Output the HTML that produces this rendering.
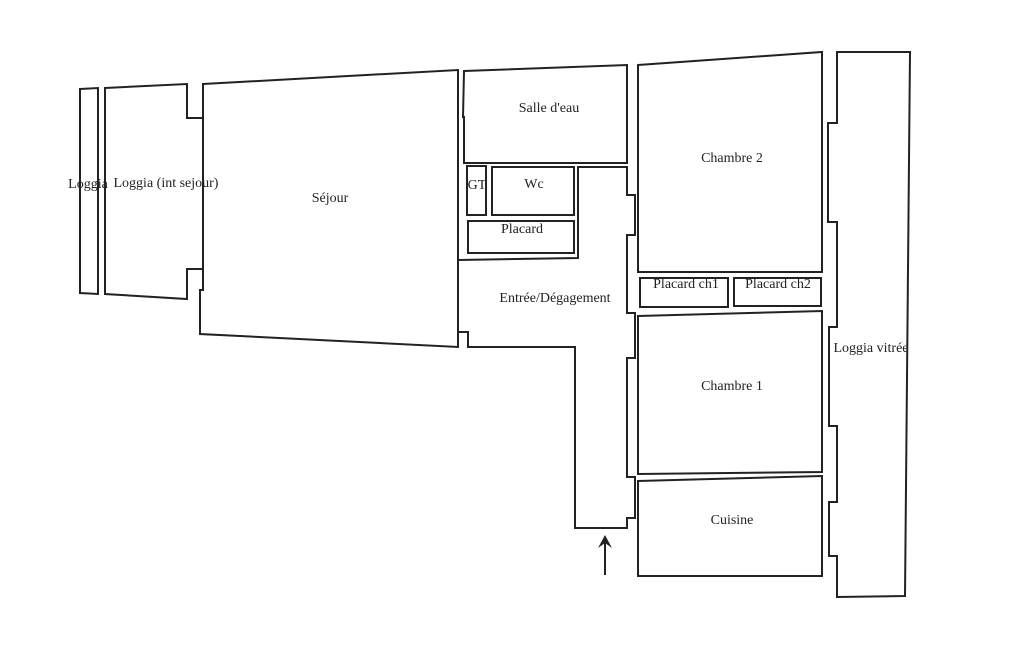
<!DOCTYPE html>
<html><head><meta charset="utf-8"><style>
html,body{margin:0;padding:0;background:#fff;}
svg{display:block;}
text{font-family:"Liberation Serif",serif;font-size:14px;fill:#222;text-anchor:middle;}
</style></head><body>
<svg width="1025" height="650" viewBox="0 0 1025 650" xmlns="http://www.w3.org/2000/svg">
<g fill="none" stroke="#222" stroke-width="2">
<polygon points="80,89 98,88 98,294 80,293"/>
<polygon points="105,88 187,84 187,118 203,118 203,269 187,269 187,299 105,294"/>
<polygon points="203,84 458,70 458,347 200,334 200,290 203,290"/>
<polygon points="464,71 627,65 627,163 464,163 464,117 463,117"/>
<rect x="467" y="166" width="19" height="49"/>
<rect x="492" y="167" width="82" height="48"/>
<rect x="468" y="221" width="106" height="32"/>
<polyline points="458,260 578,258 578,167 627,167 627,195 635,195 635,235 627,235 627,313 635,313 635,358 627,358 627,477 635,477 635,518 627,518 627,528 575,528 575,347 468,347 468,332 458,332"/>
<polygon points="638,65 822,52 822,272 638,272"/>
<rect x="640" y="278" width="88" height="29"/>
<rect x="734" y="278" width="87" height="28"/>
<polygon points="638,316 822,311 822,472 638,474"/>
<polygon points="638,481 822,476 822,576 638,576"/>
<polygon points="837,52 910,52 905,596 837,597 837,556 829,556 829,502 837,502 837,426 829,426 829,327 837,327 837,222 828,222 828,123 837,123"/>
<line x1="605" y1="575" x2="605" y2="540"/>
</g>
<path d="M598,548 L605,535 L612,548 L605,543 Z" fill="#222"/>
<text x="88" y="188">Loggia</text>
<text x="166" y="187">Loggia (int sejour)</text>
<text x="330" y="202">Séjour</text>
<text x="549" y="112">Salle d'eau</text>
<text x="477" y="189">GT</text>
<text x="534" y="188">Wc</text>
<text x="522" y="233">Placard</text>
<text x="555" y="302">Entrée/Dégagement</text>
<text x="732" y="162">Chambre 2</text>
<text x="686" y="288">Placard ch1</text>
<text x="778" y="288">Placard ch2</text>
<text x="871" y="352">Loggia vitrée</text>
<text x="732" y="390">Chambre 1</text>
<text x="732" y="524">Cuisine</text>
</svg>
</body></html>
